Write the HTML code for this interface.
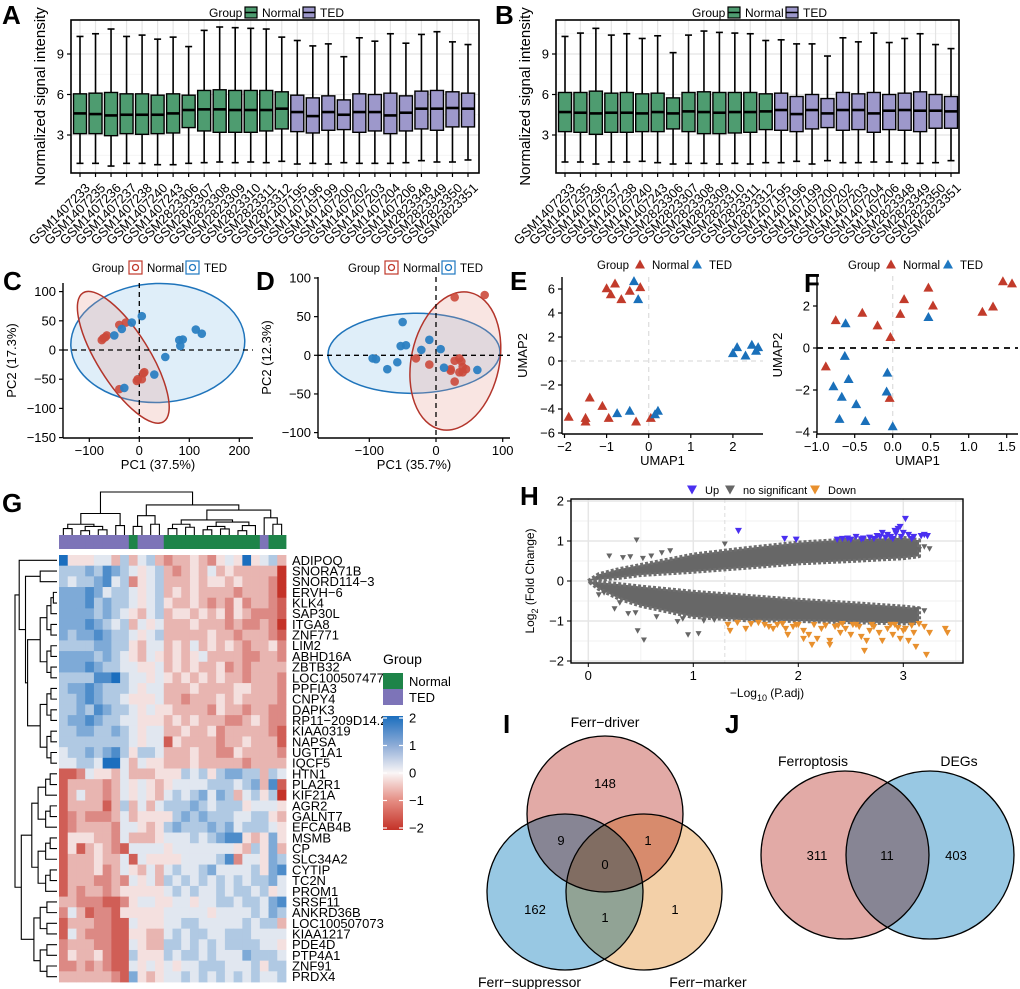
<!DOCTYPE html>
<html><head><meta charset="utf-8"><style>
html,body{margin:0;padding:0;background:#fff;}
svg{display:block;font-family:"Liberation Sans",Arial,sans-serif;}
</style></head><body>
<svg id="fig" width="1020" height="989" viewBox="0 0 1020 989" xmlns="http://www.w3.org/2000/svg">
<rect width="1020" height="989" fill="#fff"/>
</svg>
<script>
// ---------- DATA ----------
const sampleLabels=["GSM1407233","GSM1407235","GSM1407236","GSM1407237","GSM1407238","GSM1407240","GSM1407243","GSM2823306","GSM2823307","GSM2823308","GSM2823309","GSM2823310","GSM2823311","GSM2823312","GSM1407195","GSM1407196","GSM1407199","GSM1407200","GSM1407202","GSM1407203","GSM1407204","GSM1407206","GSM2823348","GSM2823349","GSM2823350","GSM2823351"];
const sampleGroups=["N","N","N","N","N","N","N","N","N","N","N","N","N","N","T","T","T","T","T","T","T","T","T","T","T","T"];
const aQ1=[3.1,3.1,2.95,3.1,3.05,3.1,3.15,3.55,3.3,3.2,3.2,3.2,3.3,3.45,3.25,3.15,3.35,3.4,3.2,3.3,3.1,3.3,3.45,3.35,3.6,3.6];
const aMed=[4.6,4.55,4.45,4.5,4.5,4.5,4.6,4.85,4.9,4.9,4.85,4.85,4.85,4.95,4.7,4.4,4.7,4.5,4.7,4.7,4.45,4.65,4.95,4.95,5.0,4.95];
const aQ3=[6.05,6.1,6.15,6.05,6.05,5.95,6.05,5.95,6.3,6.35,6.3,6.3,6.3,6.2,5.95,5.75,5.9,5.6,6.05,6.0,6.1,5.9,6.25,6.3,6.2,6.1];
const aLo=[0.9,0.9,0.7,0.9,0.9,0.8,0.8,0.9,0.95,1.0,0.95,1.0,0.95,1.05,0.85,0.9,0.85,0.95,0.9,0.9,0.9,0.95,1.1,1.0,1.0,1.15];
const aHi=[10.3,10.5,10.85,10.3,10.4,10.1,10.25,9.55,10.75,11.0,10.95,10.9,10.85,10.25,10.0,9.6,9.75,8.8,10.2,9.95,10.5,9.8,10.45,10.65,9.9,9.7];
const bQ1=[3.25,3.2,3.05,3.2,3.2,3.25,3.25,3.45,3.25,3.1,3.1,3.15,3.2,3.4,3.35,3.25,3.45,3.55,3.35,3.4,3.2,3.4,3.35,3.25,3.5,3.5];
const bMed=[4.7,4.65,4.6,4.65,4.65,4.6,4.7,4.6,4.75,4.7,4.65,4.7,4.7,4.75,4.85,4.55,4.85,4.6,4.85,4.85,4.6,4.8,4.85,4.8,4.8,4.75];
const bQ3=[6.15,6.15,6.25,6.1,6.15,6.05,6.1,5.75,6.15,6.2,6.15,6.15,6.15,6.05,6.1,5.85,6.0,5.7,6.15,6.05,6.15,6.0,6.1,6.2,6.0,5.85];
const bLo=[1.0,1.0,0.85,1.0,1.0,1.05,0.95,0.85,0.9,0.9,0.85,0.9,0.85,0.95,0.95,1.05,0.85,1.1,0.95,0.95,1.0,1.0,0.9,0.9,0.95,1.1];
const bHi=[10.3,10.55,10.9,10.4,10.5,10.15,10.35,9.1,10.4,10.7,10.6,10.55,10.5,10.0,10.05,9.75,9.75,8.85,10.2,9.9,10.55,9.85,10.15,10.5,9.7,9.4];
const boxTicks=[3,6,9];

const cNormX=[-75,-72,-68,-65,-40,-27,-40,-5,-3,5,8,10];
const cNormY=[17,20,22,25,43,47,-67,-53,-50,-50,-40,-38];
const cTedX=[-50,-35,-15,5,52,30,-30,80,87,82,113,125];
const cTedY=[25,36,47,58,-12,-42,-65,17,18,7,35,28];
const cTicksX=[-100,0,100,200];
const cTicksY=[100,50,0,-50,-100,-150];

const dNormX=[28,73,-30,-10,28,35,38,40,45,35,40,22,28,22];
const dNormY=[75,78,-4,-12,-7,-4,-8,-15,-18,-22,-22,-18,-34,-20];
const dTedX=[-50,-53,-45,-10,-22,7,-95,-90,-73,-58,12,62];
const dTedY=[43,12,13,20,7,8,-4,-5,-18,-9,-16,-19];
const dTicksX=[-100,0,100];
const dTicksY=[100,50,0,-50,-100];

const eNormX=[-1,-0.8,-0.9,-0.65,-0.45,-0.2,-1.9,-1.5,-1.5,-1.4,-1.1,-0.95,-0.3,0.05];
const eNormY=[6.1,6.5,5.6,5.2,5.9,6.2,-4.6,-4.7,-5,-3,-3.7,-4.7,-5,-4.7];
const eTedX=[-0.35,-0.25,-0.75,-0.45,0.15,0.22,2.0,2.1,2.3,2.45,2.55,2.6];
const eTedY=[6.7,5.2,-4.3,-4.1,-4.4,-4.1,0.7,1.2,0.5,1.4,0.9,1.2];
const eTicksX=[-2,-1,0,1,2];
const eTicksY=[-6,-4,-2,0,2,4,6];

const fNormX=[1.45,1.57,1.18,1.32,0.47,0.53,0.15,0.1,-0.75,-0.4,-0.2,-0.03,-0.88,-0.04];
const fNormY=[3.2,3.1,1.75,2.0,2.9,2.05,2.35,1.65,1.35,1.7,1.1,0.55,-0.85,-2.35];
const fTedX=[0.47,-0.62,-0.63,-0.58,-0.78,-0.67,-0.48,-0.7,-0.36,-0.07,-0.08,0.0];
const fTedY=[1.5,1.2,-0.35,-1.45,-1.8,-2.3,-2.65,-3.35,-3.45,-1.15,-2.05,-3.7];
const fTicksX=[-1,-0.5,0,0.5,1,1.5];
const fTicksY=[-4,-2,0,2];

const geneLabels=["ADIPOQ","SNORA71B","SNORD114−3","ERVH−6","KLK4","SAP30L","ITGA8","ZNF771","LIM2","ABHD16A","ZBTB32","LOC100507477","PPFIA3","CNPY4","DAPK3","RP11−209D14.2","KIAA0319","NAPSA","UGT1A1","IQCF5","HTN1","PLA2R1","KIF21A","AGR2","GALNT7","EFCAB4B","MSMB","CP","SLC34A2","CYTIP","TC2N","PROM1","SRSF11","ANKRD36B","LOC100507073","KIAA1217","PDE4D","PTP4A1","ZNF91","PRDX4"];
const colGroups="TTTTTTTTNTTTNNNNNNNNNNNTNN";
const heatRows=[
"94445536"+"3563"+"23343245494"+"563",
"66676876"+"5456"+"32343534333"+"330",
"65667856"+"2456"+"33343443433"+"320",
"77787566"+"5456"+"34343333233"+"320",
"77786766"+"5456"+"43343232423"+"321",
"77776765"+"4356"+"34434342432"+"221",
"77787656"+"3545"+"33343332322"+"320",
"76778766"+"5456"+"33333433233"+"321",
"66667766"+"4355"+"34353434323"+"342",
"77776765"+"4354"+"34345333322"+"332",
"77787665"+"5445"+"34343342323"+"333",
"66668896"+"5545"+"43434343323"+"332",
"67787666"+"5455"+"33343333443"+"332",
"66787665"+"4445"+"33233343433"+"332",
"66768766"+"5454"+"43333243323"+"322",
"67787665"+"5444"+"34343332234"+"322",
"66776676"+"5455"+"33433423333"+"321",
"66666666"+"5455"+"14333323343"+"331",
"56676786"+"4665"+"33343322433"+"332",
"55665995"+"3544"+"33343333323"+"333",
"11254435"+"3334"+"44656467766"+"365",
"13333235"+"4543"+"45555666567"+"381",
"13533235"+"4543"+"56567576356"+"460",
"13333136"+"3535"+"66676566645"+"554",
"12322235"+"3444"+"46767666556"+"643",
"12333325"+"5434"+"67666767566"+"654",
"14443325"+"3334"+"55565678843"+"474",
"14134321"+"5555"+"45555555436"+"473",
"13334335"+"1544"+"44555568255"+"476",
"13334235"+"4353"+"56556755556"+"478",
"13332232"+"5453"+"65656565656"+"675",
"13233234"+"4444"+"56565565665"+"645",
"33222112"+"4554"+"45545566566"+"578",
"25312214"+"4444"+"55555455556"+"576",
"13332211"+"5444"+"55665555565"+"663",
"15322211"+"4433"+"56566556665"+"555",
"23332211"+"5433"+"66565656666"+"554",
"24334211"+"6444"+"65665655576"+"665",
"22323211"+"5454"+"54556665556"+"466",
"33333321"+"7434"+"55656565656"+"556"];

const volX=[0,0.1,0.3,0.5,1,1.5,2,2.5,3,3.15];
const upTop=[0,0.17,0.3,0.4,0.66,0.82,0.96,1.04,1.08,1.02];
const upBot=[0,0.03,0.08,0.15,0.23,0.33,0.44,0.5,0.57,0.62];
const loTop=[0,-0.03,-0.08,-0.14,-0.27,-0.37,-0.47,-0.55,-0.64,-0.68];
const loBot=[0,-0.2,-0.45,-0.62,-0.9,-0.98,-1.0,-1.03,-1.06,-1.05];
const grayX=[0.46,0.2,0.33,0.52,0.4,0.78,1.3,0.47,0.53,0.95,1.05,0.38,0.25,0.1,3.2,3.25,3.15,3.2,0.85,1.1,0.6,0.7,0.3,1.2,0.9,0.65,0.15,0.45,3.12];
const grayY=[1.02,0.62,0.58,0.56,0.6,0.75,0.92,-1.25,-1.48,-1.35,-1.32,-0.82,-0.7,-0.35,0.85,0.8,0.78,-0.75,-1.02,-1.0,0.62,0.7,-0.55,-0.98,-0.95,-0.9,-0.3,-0.8,-0.72];
const upX=[1.43,1.87,1.98,2.37,2.42,2.47,2.55,2.62,2.68,2.72,2.78,2.8,2.85,2.88,2.92,2.95,2.97,3.0,3.02,3.05,3.1,3.17,3.2,3.23,2.9,2.6,2.75,2.83,2.93,2.98,3.08,2.5];
const upY=[1.25,1.05,1.03,1.03,1.05,1.06,1.1,1.06,1.08,1.05,1.1,1.2,1.15,1.1,1.25,1.3,1.35,1.2,1.55,1.15,1.1,1.12,1.15,1.12,1.05,1.04,1.12,1.08,1.18,1.1,1.05,1.03];
const downX=[1.33,1.35,1.42,1.5,1.62,1.72,1.76,1.8,1.88,1.95,2.0,2.05,2.1,2.13,2.18,2.22,2.3,2.35,2.4,2.45,2.5,2.55,2.6,2.63,2.68,2.72,2.77,2.8,2.85,2.9,2.92,2.97,3.0,3.05,3.1,3.12,3.2,3.22,3.25,3.4,3.42,2.05,2.65,2.3,1.9,1.55,1.68,1.85,2.15,2.26,2.42,2.58,2.7,2.88,2.95,3.08,3.15,3.02,2.52,2.38,1.98];
const downY=[-1.1,-1.25,-1.05,-1.2,-1.05,-1.15,-1.2,-1.1,-1.2,-1.15,-1.1,-1.25,-1.35,-1.6,-1.45,-1.2,-1.5,-1.15,-1.3,-1.2,-1.35,-1.1,-1.4,-1.75,-1.25,-1.15,-1.3,-1.5,-1.2,-1.35,-1.1,-1.45,-1.25,-1.5,-1.3,-1.65,-1.15,-1.85,-1.3,-1.2,-1.3,-1.45,-1.5,-1.6,-1.35,-1.08,-1.1,-1.08,-1.1,-1.12,-1.08,-1.15,-1.1,-1.1,-1.18,-1.12,-1.08,-1.2,-1.1,-1.12,-1.1];
const volTicksX=[0,1,2,3];
const volTicksY=[-2,-1,0,1,2];

// ---------- HELPERS ----------
const NS="http://www.w3.org/2000/svg";
const svg=document.getElementById("fig");
function mk(tag,attrs,parent,name){
  const e=document.createElementNS(NS,tag);
  for(const k in attrs) e.setAttribute(k,attrs[k]);
  
  
  (parent||svg).appendChild(e);
  return e;
}
function txt(x,y,s,size,parent,name,extra){
  const a={x:x,y:y,"font-size":size,fill:"#000"};
  if(extra) for(const k in extra) a[k]=extra[k];
  const t=mk("text",a,parent,name);
  t.textContent=s;
  return t;
}
function fmt(v){return (v<0?"−":"")+Math.abs(v);}
function fmt1(v){return (v<0?"−":"")+Math.abs(v).toFixed(1);}
function tri(g,x,y,s,fill,name,down){
  const h=s*0.9;
  const p=down?`${x-s/2},${y-h/2} ${x+s/2},${y-h/2} ${x},${y+h/2}`:`${x-s/2},${y+h/2} ${x+s/2},${y+h/2} ${x},${y-h/2}`;
  return mk("polygon",{points:p,fill:fill},g,name);
}

// ---------- PANEL LETTERS ----------
[["A",2,24],["B",495,24],["C",3,290],["D",256,290],["E",510,290],["F",804,292],["G",2,512],["H",520,505],["I",503,733],["J",725,733]].forEach(l=>{
  txt(l[1],l[2],l[0],26,svg,"panel-label-"+l[0].toLowerCase(),{"font-weight":"bold"});
});

// ---------- BOXPLOTS ----------
const GREEN="#4e9c70",PURPLE="#9d98cb";
function boxPanel(id,left,right,top,bottom,x0,step,q1,med,q3,lo,hi,legX){
  const g=mk("g",{},svg,"boxplot-panel-"+id);
  const y=v=>175.5-v*13.5;
  const x=i=>x0+i*step;
  [1.5,4.5,7.5,10.5].forEach(v=>mk("line",{x1:left,x2:right,y1:y(v),y2:y(v),stroke:"#f0f0f0","stroke-width":0.8},g,"minor-gridline"));
  boxTicks.forEach(v=>mk("line",{x1:left,x2:right,y1:y(v),y2:y(v),stroke:"#e4e4e4","stroke-width":1.2},g,"major-gridline"));
  sampleLabels.forEach((s,i)=>mk("line",{x1:x(i),x2:x(i),y1:top,y2:bottom,stroke:"#e4e4e4","stroke-width":1.2},g,"vertical-gridline"));
  sampleLabels.forEach((s,i)=>{
    const col=sampleGroups[i]==="N"?GREEN:PURPLE;
    const bg=mk("g",{},g,"box-"+s);
    mk("line",{x1:x(i),x2:x(i),y1:y(hi[i]),y2:y(q3[i]),stroke:"#000","stroke-width":1.6},bg,"upper-whisker");
    mk("line",{x1:x(i),x2:x(i),y1:y(q1[i]),y2:y(lo[i]),stroke:"#000","stroke-width":1.6},bg,"lower-whisker");
    mk("line",{x1:x(i)-3.5,x2:x(i)+3.5,y1:y(hi[i]),y2:y(hi[i]),stroke:"#000","stroke-width":1.6},bg,"upper-cap");
    mk("line",{x1:x(i)-3.5,x2:x(i)+3.5,y1:y(lo[i]),y2:y(lo[i]),stroke:"#000","stroke-width":1.6},bg,"lower-cap");
    mk("rect",{x:x(i)-6.5,y:y(q3[i]),width:13,height:y(q1[i])-y(q3[i]),fill:col,stroke:"#000","stroke-width":1.4},bg,"box-body");
    mk("line",{x1:x(i)-6.5,x2:x(i)+6.5,y1:y(med[i]),y2:y(med[i]),stroke:"#000","stroke-width":2.6},bg,"median-line");
    mk("line",{x1:x(i),x2:x(i),y1:bottom,y2:bottom+4,stroke:"#000","stroke-width":1.2},g,"x-tick");
    txt(x(i)+4,bottom+9,s,13,g,"x-tick-label",{"text-anchor":"end",transform:`rotate(-45 ${x(i)+4} ${bottom+9})`,"dominant-baseline":"hanging"});
  });
  mk("rect",{x:left,y:top,width:right-left,height:bottom-top,fill:"none",stroke:"#000","stroke-width":1.6},g,"plot-border");
  boxTicks.forEach(v=>{
    mk("line",{x1:left-4,x2:left,y1:y(v),y2:y(v),stroke:"#000","stroke-width":1.2},g,"y-tick");
    txt(left-7,y(v)+4.5,String(v),13,g,"y-tick-label",{"text-anchor":"end"});
  });
  txt(left-26,(top+bottom)/2,"Normalized signal intensity",15,g,"y-axis-title",{"text-anchor":"middle",transform:`rotate(-90 ${left-26} ${(top+bottom)/2})`});
  const lg=mk("g",{},g,"legend");
  txt(legX,17,"Group",12,lg,"legend-title");
  [["Normal",GREEN,legX+36],["TED",PURPLE,legX+94]].forEach(k=>{
    mk("rect",{x:k[2],y:7,width:12,height:11,fill:k[1],stroke:"#000","stroke-width":1.2},lg,"legend-key-"+k[0].toLowerCase());
    mk("line",{x1:k[2],x2:k[2]+12,y1:12.5,y2:12.5,stroke:"#000","stroke-width":1.5},lg,"legend-key-median");
    txt(k[2]+17,17,k[0],12,lg,"legend-label-"+k[0].toLowerCase());
  });
}
boxPanel("a",71,479,20,173,80,15.52,aQ1,aMed,aQ3,aLo,aHi,209);
boxPanel("b",556,959,20,173,565,15.44,bQ1,bMed,bQ3,bLo,bHi,692);

// ---------- AXIS HELPER for C/D/E/F ----------
function axes(g,left,bottom,top,right,xs,ys,xt,yt,fx,xTitle,yTitle,yTitleX){
  mk("line",{x1:left,x2:left,y1:top,y2:bottom,stroke:"#000","stroke-width":1.4},g,"y-axis-line");
  mk("line",{x1:left,x2:right,y1:bottom,y2:bottom,stroke:"#000","stroke-width":1.4},g,"x-axis-line");
  xt.forEach(v=>{
    mk("line",{x1:xs(v),x2:xs(v),y1:bottom,y2:bottom+4,stroke:"#000","stroke-width":1.2},g,"x-tick");
    txt(xs(v),bottom+17,fx(v),13,g,"x-tick-label",{"text-anchor":"middle"});
  });
  yt.forEach(v=>{
    mk("line",{x1:left-4,x2:left,y1:ys(v),y2:ys(v),stroke:"#000","stroke-width":1.2},g,"y-tick");
    txt(left-7,ys(v)+4.5,fmt(v),13,g,"y-tick-label",{"text-anchor":"end"});
  });
  txt((left+right)/2,bottom+31,xTitle,13,g,"x-axis-title",{"text-anchor":"middle"});
  const cy=(top+bottom)/2;
  txt(yTitleX,cy,yTitle,13,g,"y-axis-title",{"text-anchor":"middle",transform:`rotate(-90 ${yTitleX} ${cy})`});
}
function legendGroup(g,x,y,shape){
  txt(x,y,"Group",11.5,g,"legend-title");
  [["Normal","#c0392b",x+43],["TED","#1f78c1",x+100]].forEach(k=>{
    if(shape==="sq"){
      mk("rect",{x:k[2]-6,y:y-11,width:13,height:13,fill:"none",stroke:k[1],"stroke-width":1.2},g,"legend-key-box");
      mk("circle",{cx:k[2]+0.5,cy:y-4.5,r:3,fill:"none",stroke:k[1],"stroke-width":1.3},g,"legend-key-"+k[0].toLowerCase());
    } else {
      tri(g,k[2],y-5,10,k[1],"legend-key-"+k[0].toLowerCase());
    }
    txt(k[2]+12,y,k[0],11.5,g,"legend-label-"+k[0].toLowerCase());
  });
}

// ---------- PANEL C ----------
(function(){
  const g=mk("g",{},svg,"pca-panel-c");
  const xs=v=>139.3+v*0.5, ys=v=>350-v*0.584;
  mk("ellipse",{cx:xs(37),cy:ys(12),rx:87,ry:59.5,transform:`rotate(-2 ${xs(37)} ${ys(12)})`,fill:"rgba(140,195,232,0.28)",stroke:"#1f74bb","stroke-width":1.5},g,"ted-ellipse");
  mk("ellipse",{cx:xs(-32),cy:ys(-12.5),rx:76,ry:26,transform:`rotate(58 ${xs(-32)} ${ys(-12.5)})`,fill:"rgba(230,150,140,0.25)",stroke:"#b3352b","stroke-width":1.5},g,"normal-ellipse");
  mk("line",{x1:xs(0),x2:xs(0),y1:283,y2:438,stroke:"#000","stroke-width":1.3,"stroke-dasharray":"5,4"},g,"zero-vline");
  mk("line",{x1:63,x2:253,y1:ys(0),y2:ys(0),stroke:"#000","stroke-width":1.3,"stroke-dasharray":"5,4"},g,"zero-hline");
  cNormX.forEach((v,i)=>mk("circle",{cx:xs(v),cy:ys(cNormY[i]),r:4.3,fill:"#cc4a3c","fill-opacity":0.9},g,"normal-point"));
  cTedX.forEach((v,i)=>mk("circle",{cx:xs(v),cy:ys(cTedY[i]),r:4.3,fill:"#2b80c2","fill-opacity":0.95},g,"ted-point"));
  axes(g,63,438,283,253,xs,ys,cTicksX,cTicksY,fmt,"PC1 (37.5%)","PC2 (17.3%)",16);
  legendGroup(g,92,272,"sq");
})();

// ---------- PANEL D ----------
(function(){
  const g=mk("g",{},svg,"pca-panel-d");
  const xs=v=>436+v*0.667, ys=v=>355.3-v*0.773;
  mk("ellipse",{cx:xs(-33),cy:ys(2.6),rx:86,ry:40,transform:`rotate(-1 ${xs(-33)} ${ys(2.6)})`,fill:"rgba(140,195,232,0.28)",stroke:"#1f74bb","stroke-width":1.5},g,"ted-ellipse");
  mk("ellipse",{cx:xs(29),cy:ys(-7.4),rx:44,ry:70,transform:`rotate(12 ${xs(29)} ${ys(-7.4)})`,fill:"rgba(230,150,140,0.25)",stroke:"#b3352b","stroke-width":1.5},g,"normal-ellipse");
  mk("line",{x1:xs(0),x2:xs(0),y1:277,y2:438,stroke:"#000","stroke-width":1.3,"stroke-dasharray":"5,4"},g,"zero-vline");
  mk("line",{x1:318,x2:510,y1:ys(0),y2:ys(0),stroke:"#000","stroke-width":1.3,"stroke-dasharray":"5,4"},g,"zero-hline");
  dNormX.forEach((v,i)=>mk("circle",{cx:xs(v),cy:ys(dNormY[i]),r:4.3,fill:"#cc4a3c","fill-opacity":0.9},g,"normal-point"));
  dTedX.forEach((v,i)=>mk("circle",{cx:xs(v),cy:ys(dTedY[i]),r:4.3,fill:"#2b80c2","fill-opacity":0.95},g,"ted-point"));
  axes(g,318,438,277,510,xs,ys,dTicksX,dTicksY,fmt,"PC1 (35.7%)","PC2 (12.3%)",271);
  legendGroup(g,348,272,"sq");
})();

// ---------- PANEL E ----------
(function(){
  const g=mk("g",{},svg,"umap-panel-e");
  const xs=v=>648.7+v*42.1, ys=v=>361-v*12;
  mk("line",{x1:xs(0),x2:xs(0),y1:277,y2:434,stroke:"#ddd","stroke-width":1.2,"stroke-dasharray":"5,4"},g,"zero-vline");
  mk("line",{x1:562,x2:763,y1:ys(0),y2:ys(0),stroke:"#ddd","stroke-width":1.2,"stroke-dasharray":"5,4"},g,"zero-hline");
  eNormX.forEach((v,i)=>tri(g,xs(v),ys(eNormY[i]),10,"#c23b2b","normal-point"));
  eTedX.forEach((v,i)=>tri(g,xs(v),ys(eTedY[i]),10,"#1a70ba","ted-point"));
  axes(g,562,434,277,763,xs,ys,eTicksX,eTicksY,fmt,"UMAP1","UMAP2",527);
  legendGroup(g,597,269,"tri");
})();

// ---------- PANEL F ----------
(function(){
  const g=mk("g",{},svg,"umap-panel-f");
  const xs=v=>892.7+v*76, ys=v=>348-v*21;
  mk("line",{x1:xs(0),x2:xs(0),y1:276,y2:434,stroke:"#ddd","stroke-width":1.2,"stroke-dasharray":"5,4"},g,"zero-vline");
  mk("line",{x1:817,x2:1018,y1:ys(0),y2:ys(0),stroke:"#000","stroke-width":1.8,"stroke-dasharray":"6,5"},g,"zero-hline");
  fNormX.forEach((v,i)=>tri(g,xs(v),ys(fNormY[i]),10,"#c23b2b","normal-point"));
  fTedX.forEach((v,i)=>tri(g,xs(v),ys(fTedY[i]),10,"#1a70ba","ted-point"));
  axes(g,817,434,276,1018,xs,ys,fTicksX,fTicksY,fmt1,"UMAP1","UMAP2",782);
  legendGroup(g,848,269,"tri");
})();

// ---------- PANEL G HEATMAP ----------
(function(){
  const g=mk("g",{},svg,"heatmap-panel-g");
  const X0=59,CW=227/26,Y0=555,RH=427/40;
  function col(d){
    const v=(d-4.5)/4.5;
    const red=[196,50,40],wh=[250,246,246],blu=[27,110,190];
    const t=Math.min(1,Math.abs(v)), c=v<0?red:blu;
    return `rgb(${Math.round(wh[0]+(c[0]-wh[0])*t)},${Math.round(wh[1]+(c[1]-wh[1])*t)},${Math.round(wh[2]+(c[2]-wh[2])*t)})`;
  }
  heatRows.forEach((row,r)=>{
    for(let c=0;c<26;c++){
      const d=parseInt(row[c]||"4");
      mk("rect",{x:X0+c*CW,y:Y0+r*RH,width:CW+0.4,height:RH+0.4,fill:col(d)},g,"heatmap-cell");
    }
    txt(292,Y0+r*RH+RH/2+4.5,geneLabels[r],13,g,"gene-label");
  });
  for(let c=0;c<26;c++){
    mk("rect",{x:X0+c*CW,y:535,width:CW+0.4,height:14,fill:colGroups[c]==="N"?"#1e8449":"#7d74b8"},g,"group-annotation-cell");
  }
  const colTree=[1,[0.5,[0.25,[0.15,0,1],[0.2,[0.1,2,3],[0.12,4,5]]],[0.22,6,7]],[0.7,[0.45,[0.2,8,9],[0.25,10,11]],[0.58,[0.35,[0.25,[0.15,12,13],[0.18,14,15]],[0.3,[0.2,[0.12,16,17],[0.14,18,19]],[0.22,[0.1,20,21],22]]],[0.4,23,[0.25,24,25]]]]];
  function drawCol(t){
    if(typeof t==="number") return [X0+(t+0.5)*CW,535];
    const a=drawCol(t[1]),b=drawCol(t[2]),yy=535-t[0]*43;
    mk("polyline",{points:`${a[0]},${a[1]} ${a[0]},${yy} ${b[0]},${yy} ${b[0]},${b[1]}`,fill:"none",stroke:"#000","stroke-width":1.1},g,"column-dendrogram-branch");
    return [(a[0]+b[0])/2,yy];
  }
  drawCol(colTree);
  function bal(a,b,h){ if(a===b) return a; const m=Math.floor((a+b)/2); return [h,bal(a,m,h*0.6),bal(m+1,b,h*0.6)]; }
  const rowTree=[1,[0.9,0,[0.75,[0.4,1,2],[0.7,bal(3,11,0.4),bal(12,19,0.4)]]],[0.85,[0.6,bal(20,25,0.45),bal(26,31,0.45)],[0.55,bal(32,35,0.4),bal(36,39,0.4)]]];
  function drawRow(t){
    if(typeof t==="number") return [57,Y0+(t+0.5)*RH];
    const a=drawRow(t[1]),b=drawRow(t[2]),xx=57-t[0]*42;
    mk("polyline",{points:`${a[0]},${a[1]} ${xx},${a[1]} ${xx},${b[1]} ${b[0]},${b[1]}`,fill:"none",stroke:"#000","stroke-width":1.1},g,"row-dendrogram-branch");
    return [xx,(a[1]+b[1])/2];
  }
  drawRow(rowTree);
  txt(383,664,"Group",14,g,"group-legend-title");
  mk("rect",{x:383,y:673,width:20,height:16,fill:"#1e8449"},g,"legend-key-normal");
  mk("rect",{x:383,y:689,width:20,height:16,fill:"#7d74b8"},g,"legend-key-ted");
  txt(409,686,"Normal",13,g,"legend-label-normal");
  txt(409,702,"TED",13,g,"legend-label-ted");
  const defs=mk("defs",{},g,"defs");
  const lgd=mk("linearGradient",{id:"hg",x1:0,y1:0,x2:0,y2:1},defs,"colorbar-gradient");
  [[0,"#1b6ebe"],[0.25,"#8aaad6"],[0.5,"#faf6f6"],[0.75,"#e48a80"],[1,"#c43228"]].forEach(s=>mk("stop",{offset:s[0],"stop-color":s[1]},lgd,"gradient-stop"));
  mk("rect",{x:383,y:716,width:20,height:114,fill:"url(#hg)"},g,"colorbar");
  [2,1,0,-1,-2].forEach((v,i)=>{
    const yy=718+i*27.5;
    mk("line",{x1:383,x2:387,y1:yy,y2:yy,stroke:"#fff","stroke-width":1.2},g,"colorbar-tick");
    mk("line",{x1:399,x2:403,y1:yy,y2:yy,stroke:"#fff","stroke-width":1.2},g,"colorbar-tick");
    txt(409,yy+4.5,fmt(v),13,g,"colorbar-label");
  });
})();

// ---------- PANEL H VOLCANO ----------
(function(){
  const g=mk("g",{},svg,"volcano-panel-h");
  const xs=v=>588.3+v*105, ys=v=>581-v*40;
  const L=571,R=963,T=499,B=663;
  mk("rect",{x:L,y:T,width:R-L,height:B-T,fill:"#fff"},g,"plot-background");
  [0.5,1.5,2.5,3.5].forEach(v=>mk("line",{x1:xs(v),x2:xs(v),y1:T,y2:B,stroke:"#f2f2f2","stroke-width":1},g,"minor-gridline"));
  [-1.5,-0.5,0.5,1.5].forEach(v=>mk("line",{x1:L,x2:R,y1:ys(v),y2:ys(v),stroke:"#f2f2f2","stroke-width":1},g,"minor-gridline"));
  volTicksX.forEach(v=>mk("line",{x1:xs(v),x2:xs(v),y1:T,y2:B,stroke:"#e6e6e6","stroke-width":1.5},g,"major-gridline"));
  volTicksY.forEach(v=>mk("line",{x1:L,x2:R,y1:ys(v),y2:ys(v),stroke:"#e6e6e6","stroke-width":1.5},g,"major-gridline"));
  mk("line",{x1:xs(1.3),x2:xs(1.3),y1:T,y2:B,stroke:"#ddd","stroke-width":1,"stroke-dasharray":"4,3"},g,"p-threshold-line");
  function band(top,bot,name){
    const pts=volX.map((v,i)=>`${xs(v)},${ys(top[i])}`).concat(volX.slice().reverse().map((v,i)=>`${xs(v)},${ys(bot[volX.length-1-i])}`));
    mk("polygon",{points:pts.join(" "),fill:"#676767",stroke:"#6e6e6e","stroke-width":4,"stroke-linejoin":"round","stroke-dasharray":"3,2"},g,name);
  }
  band(upTop,upBot,"nonsig-cloud-upper");
  band(loTop,loBot,"nonsig-cloud-lower");
  grayX.forEach((v,i)=>tri(g,xs(v),ys(grayY[i]),6,"#666","nonsig-point",true));
  downX.forEach((v,i)=>tri(g,xs(v),ys(downY[i]),7,"#e8902e","down-point",true));
  upX.forEach((v,i)=>tri(g,xs(v),ys(upY[i]),7,"#4a2ff0","up-point",true));
  mk("rect",{x:L,y:T,width:R-L,height:B-T,fill:"none",stroke:"#000","stroke-width":1.4},g,"plot-border");
  volTicksX.forEach(v=>{
    mk("line",{x1:xs(v),x2:xs(v),y1:B,y2:B+4,stroke:"#000"},g,"x-tick");
    txt(xs(v),B+17,String(v),13,g,"x-tick-label",{"text-anchor":"middle"});
  });
  volTicksY.forEach(v=>{
    mk("line",{x1:L-4,x2:L,y1:ys(v),y2:ys(v),stroke:"#000"},g,"y-tick");
    txt(L-7,ys(v)+4.5,fmt(v),13,g,"y-tick-label",{"text-anchor":"end"});
  });
  const xt=txt(767,697,"−Log",12,g,"x-axis-title",{"text-anchor":"middle"});
  const s1=mk("tspan",{"font-size":9,dy:4},xt,"subscript");s1.textContent="10";
  const s2=mk("tspan",{dy:-4},xt,"x-title-rest");s2.textContent=" (P.adj)";
  const yt=txt(534,581,"Log",12,g,"y-axis-title",{"text-anchor":"middle",transform:"rotate(-90 534 581)"});
  const s3=mk("tspan",{"font-size":9,dy:4},yt,"subscript");s3.textContent="2";
  const s4=mk("tspan",{dy:-4},yt,"y-title-rest");s4.textContent=" (Fold Change)";
  const lg=mk("g",{},g,"legend");
  [["Up","#4a2ff0",692],["no significant","#666",730],["Down","#e8902e",815]].forEach(k=>{
    tri(lg,k[2],490,10,k[1],"legend-key",true);
    txt(k[2]+13,494,k[0],11,lg,"legend-label");
  });
})();

// ---------- PANEL I VENN ----------
(function(){
  const g=mk("g",{},svg,"venn-panel-i");
  mk("circle",{cx:605,cy:814,r:78,fill:"#e2aaa6",style:"mix-blend-mode:multiply"},g,"ferr-driver-circle");
  mk("circle",{cx:565,cy:892,r:78,fill:"#98c8e3",style:"mix-blend-mode:multiply"},g,"ferr-suppressor-circle");
  mk("circle",{cx:644,cy:892,r:78,fill:"#f3d0a8",style:"mix-blend-mode:multiply"},g,"ferr-marker-circle");
  [[605,814],[565,892],[644,892]].forEach(c=>mk("circle",{cx:c[0],cy:c[1],r:78,fill:"none",stroke:"#000","stroke-width":1.3},g,"circle-outline"));
  txt(605,727,"Ferr−driver",14,g,"set-label-ferr-driver",{"text-anchor":"middle"});
  txt(478,987,"Ferr−suppressor",14,g,"set-label-ferr-suppressor");
  txt(708,987,"Ferr−marker",14,g,"set-label-ferr-marker",{"text-anchor":"middle"});
  [["148",605,788],["9",561,845],["1",648,845],["0",605,869],["162",535,914],["1",605,922],["1",675,914]].forEach(n=>txt(n[1],n[2],n[0],13,g,"region-count",{"text-anchor":"middle"}));
})();

// ---------- PANEL J VENN ----------
(function(){
  const g=mk("g",{},svg,"venn-panel-j");
  mk("circle",{cx:845,cy:855,r:84,fill:"#e2aaa6",style:"mix-blend-mode:multiply"},g,"ferroptosis-circle");
  mk("circle",{cx:930,cy:855,r:84,fill:"#98c8e3",style:"mix-blend-mode:multiply"},g,"degs-circle");
  [845,930].forEach(c=>mk("circle",{cx:c,cy:855,r:84,fill:"none",stroke:"#000","stroke-width":1.3},g,"circle-outline"));
  txt(813,766,"Ferroptosis",14,g,"set-label-ferroptosis",{"text-anchor":"middle"});
  txt(959,766,"DEGs",14,g,"set-label-degs",{"text-anchor":"middle"});
  [["311",817,860],["11",887,860],["403",956,860]].forEach(n=>txt(n[1],n[2],n[0],13,g,"region-count",{"text-anchor":"middle"}));
})();
</script>
</body></html>
